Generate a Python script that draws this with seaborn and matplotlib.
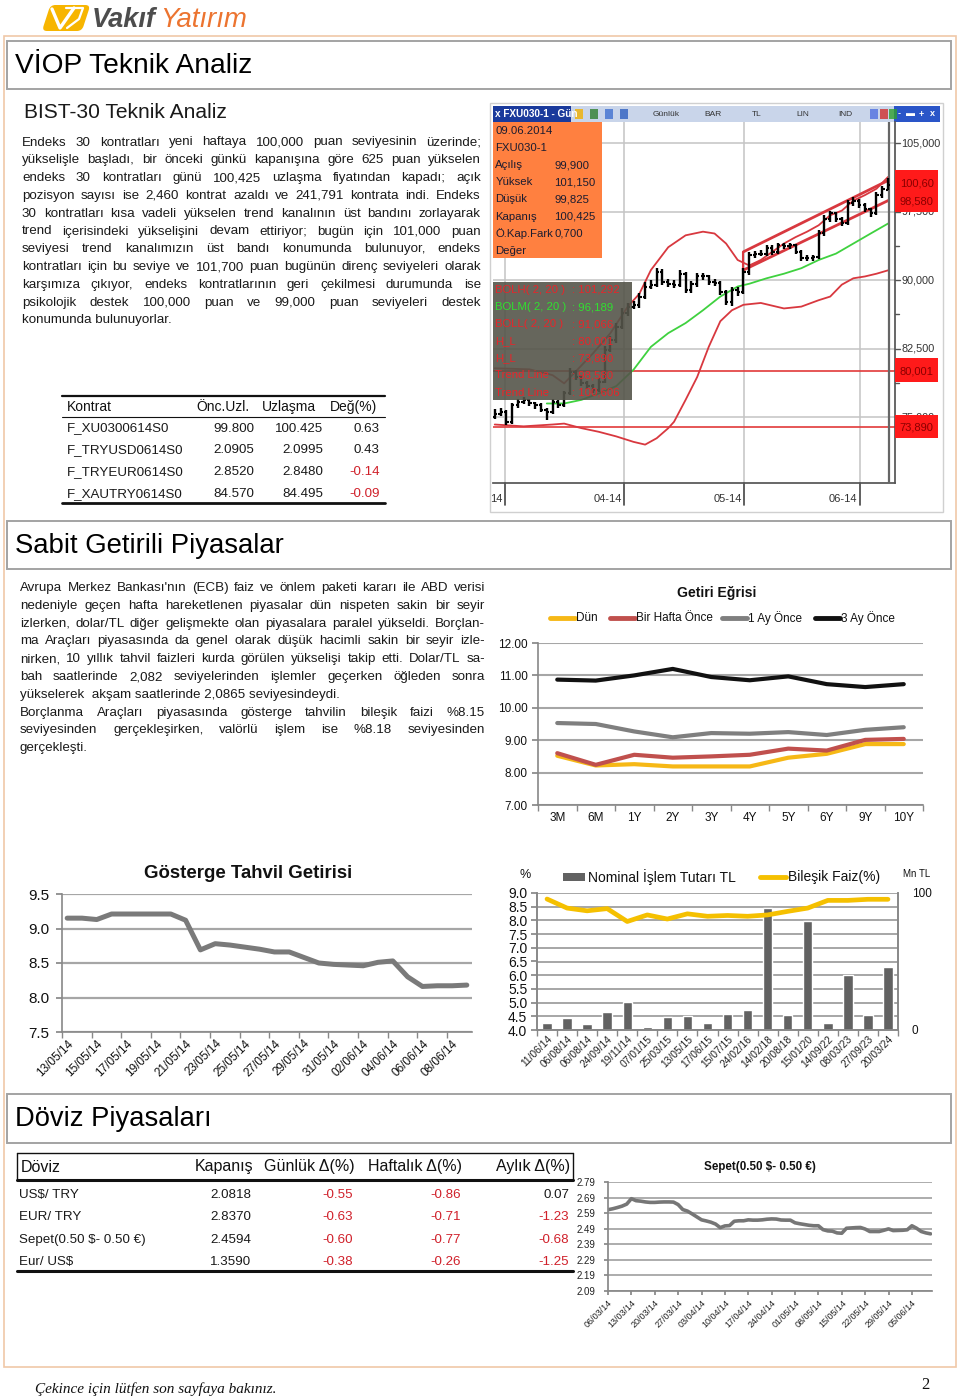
import numpy as np
import matplotlib
matplotlib.use("Agg")
import matplotlib.pyplot as plt
import matplotlib.patches as mpatches
import matplotlib.transforms as mtransforms
import seaborn as sns

sns.set_theme(style="white")
plt.rcParams['font.family'] = ['Liberation Sans', 'DejaVu Sans']
plt.rcParams['axes.unicode_minus'] = False

SANS = ['Liberation Sans', 'DejaVu Sans']
SERIF = ['Liberation Serif', 'DejaVu Serif']

# ---------------------------------------------------------------- DATA
para1_lines = [
    "Endeks 30 kontratları yeni haftaya 100,000 puan seviyesinin üzerinde;",
    "yükselişle başladı, bir önceki günkü kapanışına göre 625 puan yükselen",
    "endeks 30 kontratları günü 100,425 uzlaşma fiyatından kapadı; açık",
    "pozisyon sayısı ise 2,460 kontrat azaldı ve 241,791 kontrata indi. Endeks",
    "30 kontratları kısa vadeli yükselen trend kanalının üst bandını zorlayarak",
    "trend içerisindeki yükselişini devam ettiriyor; bugün için 101,000 puan",
    "seviyesi trend kanalımızın üst bandı konumunda bulunuyor, endeks",
    "kontratları için bu seviye ve 101,700 puan bugünün direnç seviyeleri olarak",
    "karşımıza çıkıyor, endeks kontratlarının geri çekilmesi durumunda ise",
    "psikolojik destek 100,000 puan ve 99,000 puan seviyeleri destek",
    "konumunda bulunuyorlar.",
]
para1_just = [True] * 10 + [False]

para2_lines = [
    "Avrupa Merkez Bankası'nın (ECB) faiz ve önlem paketi kararı ile ABD verisi",
    "nedeniyle geçen hafta hareketlenen piyasalar dün  nispeten sakin bir seyir",
    "izlerken, dolar/TL diğer gelişmekte olan piyasalara paralel yükseldi. Borçlan-",
    "ma Araçları  piyasasında da genel olarak düşük hacimli sakin bir seyir izle-",
    "nirken, 10 yıllık tahvil faizleri kurda görülen yükselişi takip etti. Dolar/TL sa-",
    "bah  saatlerinde    2,082 seviyelerinden işlemler geçerken öğleden sonra",
    "yükselerek  akşam saatlerinde 2,0865 seviyesindeydi.",
    "Borçlanma   Araçları piyasasında gösterge tahvilin bileşik faizi %8.15",
    "seviyesinden  gerçekleşirken,  valörlü  işlem  ise  %8.18  seviyesinden",
    "gerçekleşti.",
]
para2_just = [True] * 6 + [False, True, True, False]

kontrat_cols = ["Kontrat", "Önc.Uzl.", "Uzlaşma", "Değ(%)"]
kontrat_names = ["F_XU0300614S0", "F_TRYUSD0614S0", "F_TRYEUR0614S0", "F_XAUTRY0614S0"]
kontrat_prev = ["99.800", "2.0905", "2.8520", "84.570"]
kontrat_settle = ["100.425", "2.0995", "2.8480", "84.495"]
kontrat_chg = [0.63, 0.43, -0.14, -0.09]

yc_tenors = ["3M", "6M", "1Y", "2Y", "3Y", "4Y", "5Y", "6Y", "9Y", "10Y"]
yc_dun = [8.52, 8.22, 8.26, 8.19, 8.19, 8.19, 8.46, 8.58, 8.88, 8.88]
yc_hafta = [8.60, 8.24, 8.55, 8.46, 8.50, 8.55, 8.74, 8.68, 9.01, 9.04]
yc_1ay = [9.53, 9.50, 9.27, 9.09, 9.22, 9.20, 9.25, 9.16, 9.32, 9.40]
yc_3ay = [10.87, 10.84, 11.00, 11.20, 10.95, 10.85, 10.97, 10.73, 10.64, 10.73]
yc_names = ["Dün", "Bir Hafta Önce", "1 Ay Önce", "3 Ay Önce"]

bond_dates = ["13/05/14", "14/05/14", "15/05/14", "16/05/14", "17/05/14", "18/05/14",
              "19/05/14", "20/05/14", "21/05/14", "22/05/14", "23/05/14", "24/05/14",
              "25/05/14", "26/05/14", "27/05/14", "28/05/14", "29/05/14", "30/05/14",
              "31/05/14", "01/06/14", "02/06/14", "03/06/14", "04/06/14", "05/06/14",
              "06/06/14", "07/06/14", "08/06/14", "09/06/14"]
bond_yield = [9.15, 9.15, 9.13, 9.21, 9.21, 9.21, 9.21, 9.21, 9.12, 8.69,
              8.78, 8.76, 8.73, 8.70, 8.66, 8.66, 8.58, 8.50, 8.48, 8.47,
              8.46, 8.51, 8.53, 8.30, 8.16, 8.17, 8.17, 8.18]

auc_dates = ["11/06/14", "06/08/14", "06/08/14", "24/09/14", "19/11/14", "07/01/15",
             "25/03/15", "13/05/15", "17/06/15", "15/07/15", "24/02/16", "14/02/18",
             "20/08/18", "15/01/20", "14/09/22", "08/03/23", "27/09/23", "20/03/24"]
auc_volume = [5.4, 8.5, 4.1, 13.4, 20.2, 2.4, 9.8, 10.2, 4.9, 11.7,
              14.6, 89.0, 11.0, 79.3, 4.9, 40.2, 11.0, 46.3]
auc_rate = [8.78, 8.45, 8.35, 8.43, 7.96, 8.20, 8.05, 8.24, 8.15, 8.18,
            8.15, 8.20, 8.33, 8.45, 8.73, 8.73, 8.77, 8.77]

fx_cols = ["Döviz", "Kapanış", "Günlük Δ(%)", "Haftalık Δ(%)", "Aylık Δ(%)"]
fx_names = ["US$/ TRY", "EUR/ TRY", "Sepet(0.50 $- 0.50 €)", "Eur/ US$"]
fx_close = ["2.0818", "2.8370", "2.4594", "1.3590"]
fx_daily = [-0.55, -0.63, -0.60, -0.38]
fx_weekly = [-0.86, -0.71, -0.77, -0.26]
fx_monthly = [0.07, -1.23, -0.68, -1.25]

basket_labels = ["06/03/14", "13/03/14", "20/03/14", "27/03/14", "03/04/14", "10/04/14",
                 "17/04/14", "24/04/14", "01/05/14", "08/05/14", "15/05/14", "22/05/14",
                 "29/05/14", "05/06/14"]
basket_values = [2.612, 2.618, 2.626, 2.635, 2.648, 2.683, 2.670, 2.667, 2.662, 2.659,
                 2.659, 2.661, 2.662, 2.662, 2.661, 2.645, 2.613, 2.603, 2.585, 2.566,
                 2.547, 2.540, 2.532, 2.520, 2.497, 2.508, 2.510, 2.538, 2.541, 2.541,
                 2.547, 2.545, 2.545, 2.547, 2.551, 2.553, 2.552, 2.546, 2.545, 2.545,
                 2.528, 2.522, 2.517, 2.512, 2.509, 2.509, 2.484, 2.476, 2.474, 2.463,
                 2.461, 2.493, 2.495, 2.497, 2.498, 2.488, 2.472, 2.472, 2.472, 2.480,
                 2.489, 2.478, 2.479, 2.480, 2.483, 2.509, 2.493, 2.472, 2.463, 2.457]

# FXU030-1 daily OHLC (thousand points)
fxu_open = [75.0, 75.4, 75.6, 74.5, 76.3, 76.7, 76.9, 76.5, 76.3, 75.8,
            75.6, 76.7, 76.3, 77.6, 80.0, 79.4, 78.7, 78.4, 78.0, 78.9,
            82.4, 83.4, 84.9, 86.4, 87.1, 87.3, 88.2, 89.3, 89.5, 90.9,
            89.8, 89.6, 89.5, 90.7, 88.9, 89.6, 90.4, 90.4, 89.8, 89.7,
            88.7, 87.6, 88.9, 88.7, 90.9, 92.7, 92.9, 92.9, 93.5, 93.1,
            93.8, 93.7, 93.8, 93.1, 92.4, 92.4, 92.5, 95.1, 96.7, 97.3,
            96.7, 96.2, 98.4, 98.7, 98.2, 97.8, 97.3, 99.3, 99.9]
fxu_high = [75.9, 76.0, 75.8, 76.6, 77.0, 77.2, 77.0, 76.7, 76.5, 76.0,
            77.0, 76.9, 77.9, 80.4, 80.2, 79.6, 79.0, 78.6, 79.3, 82.8,
            83.9, 85.3, 86.9, 87.5, 87.7, 88.6, 89.8, 90.0, 91.3, 91.2,
            90.1, 90.0, 91.1, 90.9, 89.9, 90.8, 90.8, 90.6, 90.1, 89.9,
            88.9, 89.2, 89.2, 91.3, 93.1, 93.2, 93.3, 93.8, 93.8, 94.1,
            94.1, 94.1, 93.9, 93.3, 92.7, 92.8, 95.5, 97.1, 97.6, 97.5,
            96.9, 98.8, 99.1, 98.9, 98.4, 97.9, 99.6, 100.3, 101.15]
fxu_low = [74.8, 75.1, 74.1, 74.3, 76.0, 76.4, 76.2, 75.9, 75.6, 74.7,
           75.4, 76.0, 76.1, 77.4, 79.1, 78.4, 78.1, 77.7, 77.8, 78.7,
           82.1, 83.1, 84.6, 86.1, 86.8, 87.0, 87.9, 89.0, 89.2, 89.5,
           89.3, 89.1, 89.2, 88.6, 88.6, 89.3, 90.0, 89.5, 89.4, 88.4,
           87.3, 87.2, 88.3, 88.5, 90.6, 92.4, 92.6, 92.6, 92.8, 92.9,
           93.4, 93.4, 92.9, 92.1, 92.1, 92.1, 92.3, 94.8, 96.4, 96.4,
           95.9, 96.0, 98.1, 97.9, 97.5, 96.9, 97.1, 99.0, 99.825]
fxu_close = [75.4, 75.6, 74.5, 76.3, 76.7, 76.9, 76.5, 76.3, 75.8, 75.6,
             76.7, 76.3, 77.6, 80.0, 79.4, 78.7, 78.4, 78.0, 78.9, 82.4,
             83.4, 84.9, 86.4, 87.1, 87.3, 88.2, 89.3, 89.5, 90.9, 89.8,
             89.6, 89.5, 90.7, 88.9, 89.6, 90.4, 90.4, 89.8, 89.7, 88.7,
             87.6, 88.9, 88.7, 90.9, 92.7, 92.9, 92.9, 93.5, 93.1, 93.8,
             93.7, 93.8, 93.1, 92.4, 92.4, 92.5, 95.1, 96.7, 97.3, 96.7,
             96.2, 98.4, 98.7, 98.2, 97.8, 97.3, 99.3, 100.0, 100.425]
boll_up_idx = [0, 6, 10, 12, 14, 17, 20, 23, 25, 27, 30, 33, 36, 38, 40, 42, 44, 46,
               48, 50, 52, 54, 56, 58, 60, 62, 64, 66, 68]
boll_up = [80.35, 80.24, 79.6, 78.7, 80.0, 82.0, 84.2, 87.1, 88.5, 91.1, 93.6, 94.9,
           95.3, 95.1, 94.0, 92.2, 91.6, 92.2, 93.1, 94.0, 94.7, 95.3, 96.0, 97.1,
           97.6, 98.7, 99.3, 100.0, 101.29]
boll_mid_idx = [9, 12, 15, 18, 21, 24, 27, 30, 33, 36, 39, 42, 44, 47, 50, 53, 56, 59,
                62, 65, 68]
boll_mid = [76.5, 76.5, 76.9, 77.6, 78.4, 80.2, 82.7, 84.2, 85.3, 86.7, 88.2, 89.3,
            89.6, 90.2, 90.7, 91.3, 92.2, 92.9, 94.0, 95.1, 96.19]
boll_low_idx = [0, 5, 10, 12, 15, 18, 21, 24, 26, 28, 30, 31, 33, 35, 37, 39, 41, 43,
                46, 50, 53, 56, 58, 60, 62, 64, 66, 68]
boll_low = [74.2, 74.0, 74.2, 74.3, 73.8, 73.4, 72.9, 72.3, 72.0, 72.7, 73.8, 74.5,
            76.9, 79.4, 82.7, 85.5, 86.7, 87.3, 87.5, 86.9, 87.1, 87.8, 88.2, 89.5,
            90.2, 90.4, 90.7, 91.07]
channel_idx = [43, 68]
channel_up = [93.1, 100.9]
channel_dn = [91.1, 98.7]
hl_levels = [80.001, 73.890]
month_idx = [1.7, 22.4, 43.1, 63.1]
month_labels = ["14", "04-14", "05-14", "06-14"]
price_ticks = [75.0, 82.5, 90.0, 97.5, 105.0]
info_rows = [("09.06.2014", ""), ("FXU030-1", ""), ("Açılış", "99,900"),
             ("Yüksek", "101,150"), ("Düşük", "99,825"), ("Kapanış", "100,425"),
             ("Ö.Kap.Fark", "0,700"), ("Değer", "")]
ind_rows = [("BOLH( 2, 20 )", ": 101,292"), ("BOLM( 2, 20 )", ": 96,189"),
            ("BOLL( 2, 20 )", ": 91,066"), ("H_L", ": 80,001"), ("H_L", ": 73,890"),
            ("Trend Line", ": 98,580"), ("Trend Line", ": 100,606")]
side_labels = [(100.60, "100,60"), (98.58, "98,580"), (80.001, "80,001"), (73.89, "73,890")]

# ---------------------------------------------------------------- FIGURE
W, H = 960, 1399
fig = plt.figure(figsize=(W / 100, H / 100), dpi=100)
page = fig.add_axes([0, 0, 1, 1])
page.set_xlim(0, W)
page.set_ylim(H, 0)
page.axis('off')
renderer = fig.canvas.get_renderer()
TXT = '#1a1a1a'


def px_axes(x0, y0, x1, y1):
    return fig.add_axes([x0 / W, 1 - y1 / H, (x1 - x0) / W, (y1 - y0) / H])


def fit_text(x, y, s, width, **kw):
    """Text sized so that its drawn width matches the reference width (px)."""
    t = page.text(x, y, s, fontsize=10, **kw)
    w = t.get_window_extent(renderer).width
    t.set_fontsize(10 * width / w)
    return t


def justify(lines, flags, x0, x1, y0, dy, **kw):
    for i, line in enumerate(lines):
        y = y0 + i * dy
        if not flags[i]:
            page.text(x0, y, line, va='center', ha='left', **kw)
            continue
        words = line.split()
        widths = []
        for w_ in words:
            t = page.text(0, 0, w_, **kw)
            widths.append(t.get_window_extent(renderer).width)
            t.remove()
        gap = (x1 - x0 - sum(widths)) / max(len(words) - 1, 1)
        x = x0
        for w_, wd in zip(words, widths):
            page.text(x, y, w_, va='center', ha='left', **kw)
            x += wd + gap


# page frame, logo, headers
page.add_patch(mpatches.Rectangle((4, 36), 952, 1331, fill=False, ec='#f0c8a8', lw=1.2))
page.add_patch(mpatches.FancyBboxPatch((46, 5), 40, 26, boxstyle="round,pad=0,rounding_size=5",
                                       mutation_aspect=1, fc='#f7b500', ec='none',
                                       transform=mtransforms.Affine2D().skew_deg(-18, 0) +
                                       mtransforms.Affine2D().translate(6, 0) + page.transData))
page.plot([52, 60, 74], [9, 28, 8], color='white', lw=2.4)
page.plot([66, 83, 79, 67], [8, 8, 19, 28], color='white', lw=1.6)
fit_text(92, 20, "Vakıf", 64, fontweight='bold', fontstyle='italic', color='#4d4d4d',
         va='center', family=SANS)
fit_text(160, 20, "Yatırım", 87, fontstyle='italic', color='#ec7430', va='center', family=SANS)

for (y0, y1, title, wd) in [(41, 89, "VİOP Teknik Analiz", 237),
                            (521, 569, "Sabit Getirili Piyasalar", 270),
                            (1094, 1143, "Döviz Piyasaları", 197)]:
    page.add_patch(mpatches.Rectangle((7, y0), 944, y1 - y0, fill=False, ec='#a3a3a3', lw=1.4))
    fit_text(15, (y0 + y1) / 2 + 1, title, wd, color='black', va='center', family=SANS)

fit_text(24, 112, "BIST-30 Teknik Analiz", 204, color=TXT, va='center', family=SANS)
justify(para1_lines, para1_just, 22, 481, 142.5, 17.8, fontsize=9.6, color=TXT, family=SANS)
justify(para2_lines, para2_just, 20, 485, 588, 17.8, fontsize=9.6, color=TXT, family=SANS)

# ---------------- Kontrat table
page.plot([62, 385], [396, 396], color='#111', lw=1.6)
page.plot([62, 385], [417, 417], color='#111', lw=0.8)
page.plot([62, 385], [503, 503], color='#111', lw=2.0)
hdr_x = [67, 196, 262, 330]
for x, c in zip(hdr_x, kontrat_cols):
    page.text(x, 407, c, fontsize=10, color='#111', va='center', ha='left', family=SANS)
for i in range(len(kontrat_names)):
    y = 428.5 + i * 21.7
    page.text(67, y, kontrat_names[i], fontsize=9.6, color=TXT, va='center', family=SANS)
    page.text(254, y, kontrat_prev[i], fontsize=9.6, color=TXT, va='center', ha='right', family=SANS)
    page.text(323, y, kontrat_settle[i], fontsize=9.6, color=TXT, va='center', ha='right', family=SANS)
    page.text(380, y, f"{kontrat_chg[i]:.2f}", fontsize=9.6, va='center', ha='right', family=SANS,
              color='#d0202a' if kontrat_chg[i] < 0 else TXT)

# ---------------- FXU030 screenshot chart
page.add_patch(mpatches.Rectangle((490, 103), 453, 409, fc='white', ec='#d0d0d0', lw=1.0))
page.add_patch(mpatches.Rectangle((493, 106), 447, 16, fc='#c9d5ea', ec='none'))
page.add_patch(mpatches.Rectangle((493, 106), 78, 16, fc='#1a3a9c', ec='none'))
page.add_patch(mpatches.Rectangle((894, 106), 46, 16, fc='#2a55c8', ec='none'))
page.text(495, 114, "x FXU030-1 - Gün", color='white', fontweight='bold',
          va='center', fontsize=7.2, family=SANS)
for xx, lab in [(653, "Günlük"), (704, "BAR"), (752, "TL"), (796, "LIN"), (838, "IND")]:
    page.text(xx, 114, lab, color='#333', va='center', fontsize=6, family=SANS)
for xx, col in [(575, '#f0b000'), (590, '#2f7f2f'), (605, '#4070d0'), (620, '#3060c0'),
                (870, '#5070e0'), (880, '#d03030'), (889, '#30a030')]:
    page.add_patch(mpatches.Rectangle((xx, 109), 8, 10, fc=col, ec='none', alpha=0.8))
for xx, s in [(899, "-"), (910, "▬"), (921, "+"), (932, "x")]:
    page.text(xx, 114, s, fontsize=6.5, color='white', va='center', ha='center', fontweight='bold')

axc = px_axes(493, 122, 895, 483)
axc.set_xlim(-0.3, 69.2)
axc.set_ylim(67.8, 107.3)
axc.set_yticks(price_ticks)
axc.set_xticks(month_idx)
axc.grid(True, color='#c4c4c4', lw=1.1)
axc.tick_params(left=False, bottom=False, labelleft=False, labelbottom=False)
for s in ['top', 'left']:
    axc.spines[s].set_visible(False)
axc.spines['right'].set_color('#555')
axc.spines['bottom'].set_color('#555')
idx = np.arange(len(fxu_close))
axc.axhline(hl_levels[0], color='#e23a3a', lw=1.2, zorder=2)
axc.axhline(hl_levels[1], color='#e23a3a', lw=1.2, zorder=2)
sns.lineplot(x=boll_up_idx, y=boll_up, ax=axc, color='#d8383f', lw=1.3, sort=False, zorder=2)
sns.lineplot(x=boll_low_idx, y=boll_low, ax=axc, color='#d8383f', lw=1.3, sort=False, zorder=2)
sns.lineplot(x=boll_mid_idx, y=boll_mid, ax=axc, color='#3fd13f', lw=1.3, sort=False, zorder=2)
sns.lineplot(x=channel_idx, y=channel_up, ax=axc, color='#d8383f', lw=2.0, sort=False, zorder=3)
sns.lineplot(x=channel_idx, y=channel_dn, ax=axc, color='#d8383f', lw=2.0, sort=False, zorder=3)
axc.plot([channel_idx[0]] * 2, [channel_dn[0], channel_up[0]], color='#d8383f', lw=1.5, zorder=3)
axc.vlines(idx, fxu_low, fxu_high, color='black', lw=1.7, zorder=4)
axc.hlines(fxu_open, idx - 0.4, idx, color='black', lw=1.5, zorder=4)
axc.hlines(fxu_close, idx, idx + 0.4, color='black', lw=1.5, zorder=4)
axc.axvline(idx[-1] + 0.1, color='#666', lw=1.6, zorder=3)
axc.set_xlabel('')
axc.set_ylabel('')

# price labels on the right (two of them partly hidden by the red value boxes)
blend_y = mtransforms.blended_transform_factory(axc.transAxes, axc.transData)
box_spans = [(97.43, 102.0), (78.85, 81.48), (72.73, 75.25)]
for v in price_ticks:
    t = axc.text(1.015, v, f"{int(v * 1000):,}", transform=blend_y, color='#333',
                 va='center', ha='left', clip_on=False, zorder=2, fontsize=7.8, family=SANS)
    if v == 97.5:
        clip = mpatches.Rectangle((1.0, 67.8), 0.2, box_spans[0][0] - 67.8, transform=blend_y)
        t.set_clip_path(clip)
    elif v == 75.0:
        clip = mpatches.Rectangle((1.0, box_spans[2][1]), 0.2, 107.3 - box_spans[2][1],
                                  transform=blend_y)
        t.set_clip_path(clip)
for v in [78.75, 86.25, 93.75, 101.25]:
    axc.plot([1.0, 1.01], [v, v], transform=blend_y, color='#555', lw=1, clip_on=False)
for v in price_ticks:
    axc.plot([1.0, 1.012], [v, v], transform=blend_y, color='#555', lw=1, clip_on=False)
for (yb0, yb1) in box_spans:
    axc.add_patch(mpatches.Rectangle((1.0, yb0), 0.108, yb1 - yb0, transform=blend_y,
                                     fc='#ff1a1a', ec='none', clip_on=False, zorder=6))
for v, lab in side_labels:
    axc.text(1.054, v, lab, transform=blend_y, color='#8a0000', va='center',
             ha='center', clip_on=False, zorder=7, fontsize=8, family=SANS)

# month labels below
blend_x = mtransforms.blended_transform_factory(axc.transData, axc.transAxes)
for m, lab in zip(month_idx, month_labels):
    axc.plot([m, m], [0, -0.06], transform=blend_x, color='#444', lw=1.2, clip_on=False)
    axc.text(m - 0.4, -0.045, lab, transform=blend_x, color='#333', ha='right',
             va='center', clip_on=False, fontsize=8, family=SANS)

# info boxes
axc.add_patch(mpatches.Rectangle((0, 0.623), 0.271, 0.377, transform=axc.transAxes,
                                 fc='#ff8040', ec='none', zorder=8))
for i, (a, b) in enumerate(info_rows):
    yy = 1 - (131 + i * 17.1 - 122) / 361
    axc.text(0.006, yy, a, transform=axc.transAxes, color='#1c1c30', va='center',
             zorder=9, fontsize=8.2, family=SANS)
    if b:
        axc.text(0.152, yy, b, transform=axc.transAxes, color='#1c1c30',
                 va='center', zorder=9, fontsize=8.2, family=SANS)
axc.add_patch(mpatches.Rectangle((0, 0.23), 0.346, 0.327, transform=axc.transAxes,
                                 fc='#55554a', ec='none', alpha=0.9, zorder=8))
for i, (a, b) in enumerate(ind_rows):
    yy = 1 - (290 + i * 17.1 - 122) / 361
    col = '#30e030' if i == 1 else '#e8252a'
    axc.text(0.006, yy, a, transform=axc.transAxes, color=col, va='center',
             zorder=9, fontsize=8.2, family=SANS)
    axc.text(0.196, yy, b, transform=axc.transAxes, color=col, va='center',
             zorder=9, fontsize=8.2, family=SANS)

# ---------------- Getiri Eğrisi
fit_text(717, 593, "Getiri Eğrisi", 80, fontweight='bold', color='#111',
         ha='center', va='center', family=SANS)
yc_colors = ['#f6b816', '#c0504d', '#7f7f7f', '#111111']
axy = px_axes(538, 643, 923, 805)
xy = np.arange(len(yc_tenors))
for vals, col in zip([yc_dun, yc_hafta, yc_1ay, yc_3ay], yc_colors):
    sns.lineplot(x=xy, y=vals, ax=axy, color=col, lw=3.0, sort=False)
axy.set_xlim(-0.5, 9.5)
axy.set_ylim(7, 12)
axy.set_yticks(np.arange(7, 12.01, 1))
axy.set_yticklabels([f"{v:.2f}" for v in np.arange(7, 12.01, 1)])
axy.set_xticks(xy)
axy.set_xticklabels(yc_tenors)
axy.set_xticks(np.arange(-0.5, 9.6, 1), minor=True)
axy.grid(axis='y', color='#a6a6a6', lw=1.5)
axy.set_axisbelow(True)
axy.tick_params(axis='x', which='major', length=0, labelsize=8.5, pad=5, colors='#111')
axy.tick_params(axis='x', which='minor', length=4, color='#888', direction='out', bottom=True)
axy.tick_params(axis='y', length=4, color='#888', labelsize=8.5, colors='#111', left=True)
for s in ['top', 'right']:
    axy.spines[s].set_visible(False)
for s in ['left', 'bottom']:
    axy.spines[s].set_color('#888')
    axy.spines[s].set_linewidth(1.2)
axy.set_xlabel('')
axy.set_ylabel('')
for xl, name, col in zip([550, 610, 722, 815], yc_names, yc_colors):
    page.plot([xl, xl + 25], [618, 618], color=col, lw=3.5, solid_capstyle='round')
    page.text(xl + 26, 618, name, fontsize=8.5, color='#111', va='center', family=SANS)

# ---------------- Gösterge Tahvil Getirisi
fit_text(248, 873, "Gösterge Tahvil Getirisi", 210, fontweight='bold',
         color='#111', ha='center', va='center', family=SANS)
axg = px_axes(62, 894, 472, 1032)
xg = np.arange(len(bond_yield))
sns.lineplot(x=xg, y=bond_yield, ax=axg, color='#7a7a7a', lw=3.6, sort=False)
axg.set_xlim(-0.35, 27.35)
axg.set_ylim(7.5, 9.5)
axg.set_yticks([7.5, 8.0, 8.5, 9.0, 9.5])
axg.set_yticklabels(["7.5", "8.0", "8.5", "9.0", "9.5"])
axg.set_xticks(xg[::2])
axg.set_xticklabels(bond_dates[::2], rotation=45, ha='right', rotation_mode='anchor')
axg.set_xticks(np.arange(-0.35, 27.4, 2), minor=True)
axg.grid(axis='y', color='#a6a6a6', lw=1.6)
axg.set_axisbelow(True)
axg.tick_params(axis='x', which='major', length=0, labelsize=8.5, pad=4, colors='#111')
axg.tick_params(axis='x', which='minor', length=4, color='#888', bottom=True)
axg.tick_params(axis='y', length=4, color='#888', labelsize=11, colors='#111', left=True, pad=5)
for s in ['top', 'right']:
    axg.spines[s].set_visible(False)
for s in ['left', 'bottom']:
    axg.spines[s].set_color('#888')
    axg.spines[s].set_linewidth(1.2)
axg.set_xlabel('')
axg.set_ylabel('')

# ---------------- Nominal İşlem Tutarı / Bileşik Faiz
axb = px_axes(537, 893, 898, 1030)
xb = np.arange(len(auc_volume))
sns.barplot(x=xb, y=auc_volume, ax=axb, color='#626262', saturation=1, width=0.47)
axb.set_ylim(0, 100)
axb.set_xlim(-0.5, len(xb) - 0.5)
axf = axb.twinx()
sns.lineplot(x=xb, y=auc_rate, ax=axf, color='#f5c000', lw=3.4, sort=False)
axf.set_ylim(4, 9)
axb.yaxis.tick_right()
axf.yaxis.tick_left()
axb.set_yticks(np.arange(0, 101, 10))
axb.set_yticklabels(['0'] + [''] * 9 + ['100'])
axb.grid(axis='y', color='#a6a6a6', lw=1.4)
axb.set_axisbelow(True)
axf.set_yticks(np.arange(4, 9.01, 0.5))
axf.set_yticklabels([f"{v:.1f}" for v in np.arange(4, 9.01, 0.5)])
axb.set_xticks(xb)
axb.set_xticklabels(auc_dates, rotation=45, ha='right', rotation_mode='anchor')
axb.set_xticks(np.arange(-0.5, len(xb), 1), minor=True)
axb.tick_params(axis='x', which='major', length=0, labelsize=7.4, pad=3, colors='#222')
axb.tick_params(axis='x', which='minor', length=4, color='#888', bottom=True)
axb.tick_params(axis='y', length=0, labelsize=8.5, colors='#111', right=True, pad=10)
axf.tick_params(axis='y', length=4, color='#888', labelsize=10, colors='#111', left=True, pad=3)
for a in (axb, axf):
    a.spines['top'].set_visible(False)
    for s in ['left', 'right', 'bottom']:
        a.spines[s].set_color('#888')
        a.spines[s].set_linewidth(1.2)
    a.set_xlabel('')
    a.set_ylabel('')
page.text(519, 875, "%", fontsize=9, color='#111', va='center', family=SANS)
page.text(903, 874, "Mn TL", fontsize=7, color='#111', va='center', family=SANS)
page.add_patch(mpatches.Rectangle((563, 873), 22, 8, fc='#626262', ec='none'))
page.text(588, 877, "Nominal İşlem Tutarı TL", fontsize=10, color='#111', va='center', family=SANS)
page.plot([760, 786], [877, 877], color='#f5c000', lw=3.5)
page.text(788, 877, "Bileşik Faiz(%)", fontsize=10, color='#111', va='center', family=SANS)

# ---------------- Döviz table
page.plot([17, 17], [1153, 1180], color='#111', lw=1.0)
page.plot([17, 573], [1153, 1153], color='#111', lw=1.0)
page.plot([573, 573], [1153, 1180], color='#111', lw=1.0)
page.plot([17, 573], [1180, 1180], color='#111', lw=2.2)
page.plot([17, 573], [1271, 1271], color='#111', lw=2.2)
page.text(21, 1167, fx_cols[0], fontsize=11.5, color='#111', va='center', family=SANS)
for xr, c in zip([253, 355, 462, 570], fx_cols[1:]):
    page.text(xr, 1167, c, fontsize=11.5, color='#111', va='center', ha='right', family=SANS)
for i in range(len(fx_names)):
    y = 1195 + i * 22.4
    page.text(19, y, fx_names[i], fontsize=9.6, color=TXT, va='center', family=SANS)
    page.text(251, y, fx_close[i], fontsize=9.6, color=TXT, va='center', ha='right', family=SANS)
    for xr, v in zip([353, 461, 569], [fx_daily[i], fx_weekly[i], fx_monthly[i]]):
        page.text(xr, y, f"{v:.2f}", fontsize=9.6, va='center', ha='right', family=SANS,
                  color='#d0202a' if v < 0 else TXT)

# ---------------- Sepet chart
fit_text(760, 1167, "Sepet(0.50 $- 0.50 €)", 112, fontweight='bold', color='#111',
         ha='center', va='center', family=SANS)
axs = px_axes(608, 1182, 932, 1291)
xs = np.arange(len(basket_values))
sns.lineplot(x=xs, y=basket_values, ax=axs, color='#767676', lw=2.6, sort=False)
axs.set_xlim(0, 69.3)
axs.set_ylim(2.09, 2.79)
yt = [2.09, 2.19, 2.29, 2.39, 2.49, 2.59, 2.69, 2.79]
axs.set_yticks(yt)
axs.set_yticklabels([f"{v:.2f}" for v in yt])
axs.set_xticks(xs[::5][:len(basket_labels)])
axs.set_xticklabels(basket_labels, rotation=45, ha='right', rotation_mode='anchor')
axs.grid(axis='y', color='#a6a6a6', lw=1.3)
axs.set_axisbelow(True)
axs.tick_params(axis='x', length=3, color='#888', labelsize=6.5, pad=2, colors='#222', bottom=True)
axs.tick_params(axis='y', length=3, color='#888', labelsize=7, colors='#222', left=True, pad=6)
for s in ['top', 'right']:
    axs.spines[s].set_visible(False)
for s in ['left', 'bottom']:
    axs.spines[s].set_color('#888')
axs.set_xlabel('')
axs.set_ylabel('')

# ---------------- footer
page.text(35, 1389, "Çekince için lütfen son sayfaya bakınız.", fontsize=11, fontstyle='italic',
          color='#111', va='center', family=SERIF)
page.text(921, 1385, "2", fontsize=12, color='#111', va='center', family=SERIF)

fig.savefig("out.png", dpi=100)
